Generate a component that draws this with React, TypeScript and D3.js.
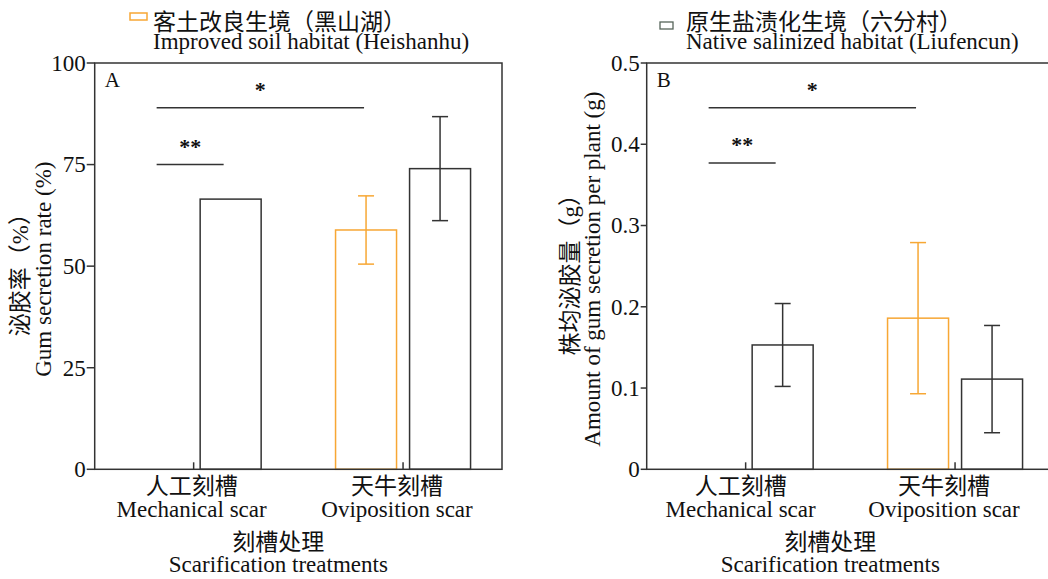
import React from "react";
import * as d3 from "d3";

// ---------- data ----------
const categories = ["人工刻槽", "天牛刻槽"];
const categoriesEn = ["Mechanical scar", "Oviposition scar"];
const seriesKeys = ["improved", "native"];
const legendZh = ["客土改良生境（黑山湖）", "原生盐渍化生境（六分村）"];
const legendEn = ["Improved soil habitat (Heishanhu)", "Native salinized habitat (Liufencun)"];

// Panel A: gum secretion rate (%)
const rateImproved = [0, 58.9];
const rateImprovedErr = [0, 8.4];
const rateNative = [66.5, 74.0];
const rateNativeErr = [0, 12.8];
const rateTicks = [0, 25, 50, 75, 100];

// Panel B: gum amount per plant (g)
const amountImproved = [0, 0.186];
const amountImprovedErr = [0, 0.093];
const amountNative = [0.153, 0.111];
const amountNativeErr = [0.051, 0.066];
const amountTicks = [0, 0.1, 0.2, 0.3, 0.4, 0.5];

// significance brackets
const sigLabels = ["**", "*"];
const sigLevelsA = [75, 89];
const sigLevelsB = [0.377, 0.445];

const FONT = "'Liberation Serif','Times New Roman','Noto Sans CJK SC',serif";
const ORANGE = "#F7A734";
const DARK = "#333333";
const FS = 23;

const TOP = 63;
const BOTTOM = 469.3;
const PLOT_W = 407.3;

type PanelProps = {
  left: number;
  domainMax: number;
  ticks: number[];
  fmt: (v: number) => string;
  improved: number[];
  improvedErr: number[];
  native: number[];
  nativeErr: number[];
  sigLevels: number[];
  letter: string;
  yTitleZh: string;
  yTitleEn: string;
  yTitleXs: [number, number];
  tickLen: number;
  labelOffsets: number[];
};

function Panel(p: PanelProps) {
  const right = p.left + PLOT_W;
  const y = d3.scaleLinear().domain([0, p.domainMax]).range([BOTTOM, TOP]);
  const x = d3.scalePoint<string>().domain(categories).range([p.left, right]).padding(0.4725);
  const sub = d3.scaleBand<string>().domain(seriesKeys).range([-67.5, 67.5]).paddingInner(0.176);
  const bw = sub.bandwidth();
  const capW = 16;

  const series = [
    { key: "improved", vals: p.improved, errs: p.improvedErr, color: ORANGE },
    { key: "native", vals: p.native, errs: p.nativeErr, color: DARK },
  ];

  const barCenter = (ci: number, key: string) => (x(categories[ci]) as number) + (sub(key) as number) + bw / 2;

  const sigFrom = [barCenter(0, "improved"), barCenter(0, "improved")];
  const sigTo = [barCenter(0, "native") - 7, barCenter(1, "improved") - 2];

  const plotCenter = (p.left + right) / 2 - 20;

  return (
    <g>
      {series.map((s) =>
        s.vals.map((v, i) =>
          v > 0 ? (
            <rect
              key={s.key + i}
              x={(x(categories[i]) as number) + (sub(s.key) as number)}
              y={y(v)}
              width={bw}
              height={BOTTOM - y(v)}
              fill="none"
              stroke={s.color}
              strokeWidth={1.5}
            />
          ) : null
        )
      )}
      {series.map((s) =>
        s.vals.map((v, i) => {
          const e = s.errs[i];
          if (!(v > 0) || !(e > 0)) return null;
          const cx = barCenter(i, s.key);
          return (
            <g key={"e" + s.key + i} stroke={s.color} strokeWidth={1.5}>
              <line x1={cx} x2={cx} y1={y(v + e)} y2={y(v - e)} />
              <line x1={cx - capW / 2} x2={cx + capW / 2} y1={y(v + e)} y2={y(v + e)} />
              <line x1={cx - capW / 2} x2={cx + capW / 2} y1={y(v - e)} y2={y(v - e)} />
            </g>
          );
        })
      )}
      <rect x={p.left} y={TOP} width={PLOT_W} height={BOTTOM - TOP} fill="none" stroke={DARK} strokeWidth={1.5} />
      {p.ticks.map((t) => (
        <g key={"t" + t}>
          <line x1={p.left - p.tickLen} x2={p.left} y1={y(t)} y2={y(t)} stroke={DARK} strokeWidth={1.5} />
          <text
            x={p.left - p.tickLen - 1}
            y={y(t)}
            dy="0.34em"
            textAnchor="end"
            fontSize={FS}
            fontFamily={FONT}
            fill="#111"
          >
            {p.fmt(t)}
          </text>
        </g>
      ))}
      {categories.map((c) => (
        <line key={"xt" + c} x1={x(c)} x2={x(c)} y1={BOTTOM} y2={BOTTOM - 7} stroke={DARK} strokeWidth={1.5} />
      ))}
      {categories.map((c, i) => (
        <g key={"xl" + c} fontFamily={FONT} fontSize={FS} fill="#111" textAnchor="middle">
          <text x={(x(c) as number) + p.labelOffsets[i]} y={494}>
            {c}
          </text>
          <text x={(x(c) as number) + p.labelOffsets[i]} y={517}>
            {categoriesEn[i]}
          </text>
        </g>
      ))}
      <g fontFamily={FONT} fontSize={FS} fill="#111" textAnchor="middle">
        <text x={plotCenter} y={550}>刻槽处理</text>
        <text x={plotCenter} y={572}>Scarification treatments</text>
      </g>
      <g fontFamily={FONT} fontSize={FS} fill="#111" textAnchor="middle">
        <text transform={`translate(${p.yTitleXs[0]},${(TOP + BOTTOM) / 2 + 3}) rotate(-90)`}>{p.yTitleZh}</text>
        <text transform={`translate(${p.yTitleXs[1]},${(TOP + BOTTOM) / 2 + 3}) rotate(-90)`}>{p.yTitleEn}</text>
      </g>
      <text x={p.left + 10} y={87} fontFamily={FONT} fontSize={21} fill="#111">
        {p.letter}
      </text>
      {sigLabels.map((lab, i) => {
        const yy = y(p.sigLevels[i]);
        return (
          <g key={"s" + i}>
            <line x1={sigFrom[i]} x2={sigTo[i]} y1={yy} y2={yy} stroke={DARK} strokeWidth={1.5} />
            <text
              x={(sigFrom[i] + sigTo[i]) / 2}
              y={yy - 11}
              textAnchor="middle"
              fontFamily={FONT}
              fontWeight="bold"
              fontSize={22}
              fill="#111"
            >
              {lab}
            </text>
          </g>
        );
      })}
    </g>
  );
}

export default function App() {
  return (
    <div style={{ position: "absolute", left: 0, top: 0 }}>
      <svg width={1048} height={579} style={{ display: "block", background: "#fff" }}>
        <rect x={130} y={13} width={17} height={7} fill="none" stroke={ORANGE} strokeWidth={1.5} />
        <g fontFamily={FONT} fontSize={FS} fill="#111">
          <text x={153} y={30}>{legendZh[0]}</text>
          <text x={153} y={49}>{legendEn[0]}</text>
        </g>
        <rect x={660} y={22} width={13} height={7} fill="none" stroke="#56655a" strokeWidth={1.3} />
        <g fontFamily={FONT} fontSize={FS} fill="#111">
          <text x={686} y={30}>{legendZh[1]}</text>
          <text x={686} y={49}>{legendEn[1]}</text>
        </g>
        <Panel
          left={94.7}
          domainMax={100}
          ticks={rateTicks}
          fmt={(v) => String(v)}
          improved={rateImproved}
          improvedErr={rateImprovedErr}
          native={rateNative}
          nativeErr={rateNativeErr}
          sigLevels={sigLevelsA}
          letter="A"
          yTitleZh="泌胶率（%）"
          yTitleEn="Gum secretion rate (%)"
          yTitleXs={[28, 51]}
          tickLen={8}
          labelOffsets={[-2, -6]}
        />
        <Panel
          left={646.7}
          domainMax={0.5}
          ticks={amountTicks}
          fmt={(v) => (v === 0 ? "0" : v.toFixed(1))}
          improved={amountImproved}
          improvedErr={amountImprovedErr}
          native={amountNative}
          nativeErr={amountNativeErr}
          sigLevels={sigLevelsB}
          letter="B"
          yTitleZh="株均泌胶量（g）"
          yTitleEn="Amount of gum secretion per plant (g)"
          yTitleXs={[578, 600]}
          tickLen={6}
          labelOffsets={[-5, -11]}
        />
      </svg>
    </div>
  );
}
